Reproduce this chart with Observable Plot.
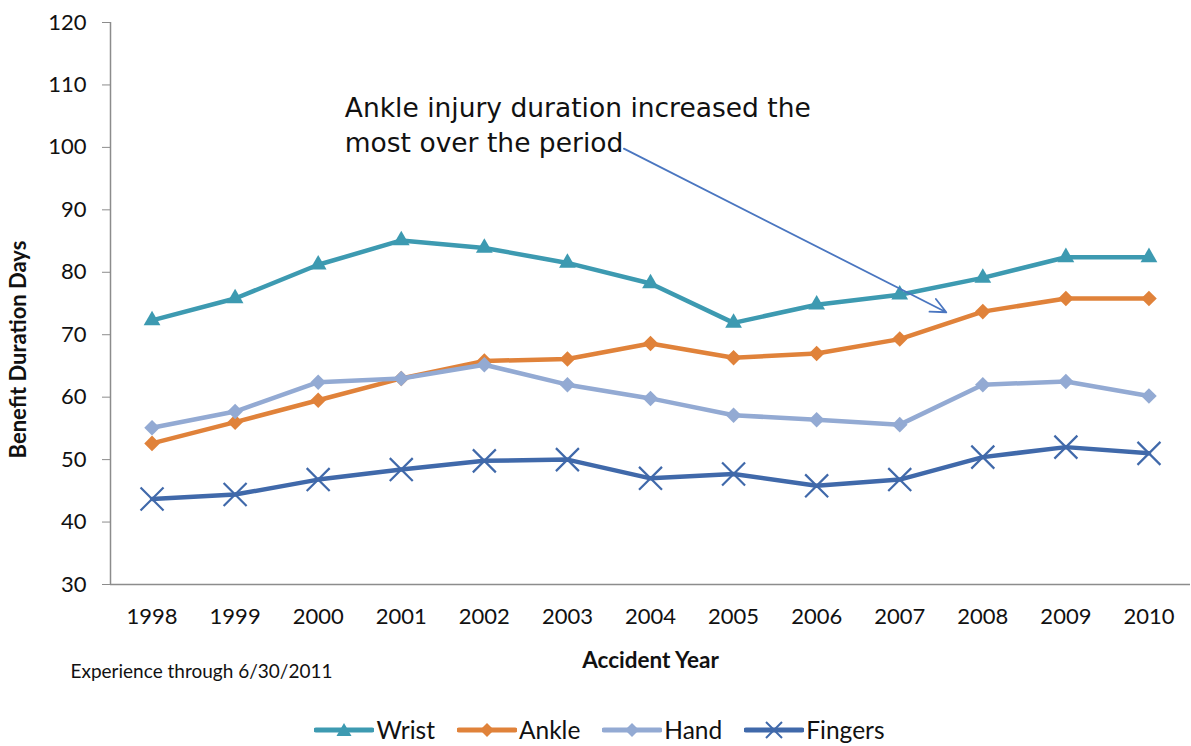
<!DOCTYPE html>
<html><head><meta charset="utf-8">
<script src="https://cdn.jsdelivr.net/npm/d3@7"></script>
<script src="https://cdn.jsdelivr.net/npm/@observablehq/plot@0.6"></script>
<style>
body{margin:0;background:#fff;font-family:Lato,"Open Sans",sans-serif;}
#legend{display:flex;justify-content:center;gap:22px;font-size:24.5px;color:#111;margin-top:15px;padding-left:8px;}
#legend span.item{display:flex;align-items:center;gap:2px;}
</style></head>
<body><div id="chart"></div><div id="legend"></div>
<script>
const years = [1998,1999,2000,2001,2002,2003,2004,2005,2006,2007,2008,2009,2010];
const wrist   = [72.3,75.8,81.2,85.1,83.9,81.5,78.2,71.9,74.8,76.4,79.1,82.4,82.4];
const ankle   = [52.6,56.0,59.5,63.0,65.8,66.1,68.6,66.3,67.0,69.3,73.7,75.8,75.8];
const hand    = [55.1,57.7,62.4,63.0,65.2,62.0,59.8,57.1,56.4,55.6,62.0,62.5,60.2];
const fingers = [43.7,44.4,46.8,48.4,49.8,50.0,47.0,47.7,45.8,46.8,50.4,52.0,51.0];
const seriesNames = ["Wrist","Ankle","Hand","Fingers"];
const seriesColors = ["#3D9AB1","#E0823A","#93AAD3","#4069AA"];
const seriesSymbols = ["triangle2","diamond2","diamond2","times"];
const seriesR = [8,7,7,10.5];
const yTicks = [30,40,50,60,70,80,90,100,110,120];
const annotationText = "Ankle injury duration increased the\nmost over the period";
const annotationPos = {x:2000.32, y:103.8};
const arrowData = [{x1:2003.68, y1:99.8, x2:2007.56, y2:73.6}];
const captionText = "Experience through 6/30/2011";

const allValues = [wrist, ankle, hand, fingers];
const data = [];
seriesNames.forEach((s,i)=>years.forEach((yr,j)=>data.push({series:s, year:yr, value:allValues[i][j]})));

const marks = [
  Plot.ruleX([1997.5],{stroke:"#8c8c8c", strokeWidth:1.5}),
  Plot.ruleY([30],{stroke:"#8c8c8c", strokeWidth:1.5}),
  Plot.axisY({ticks:yTicks, tickSize:8, tickPadding:16, fontSize:22, stroke:"#8c8c8c", label:null}),
  Plot.axisX({ticks:years, tickSize:0, tickPadding:24, fontSize:22, tickFormat:d=>String(d), label:null}),
  Plot.text(["Benefit Duration Days"],{frameAnchor:"left", textAnchor:"middle", dx:-92, dy:46, rotate:-90, fontSize:22, fontWeight:"bold", fill:"#111"}),
  Plot.text(["Accident Year"],{frameAnchor:"bottom", dy:83, fontSize:22.5, fontWeight:"bold", fill:"#111"}),
  Plot.text([captionText],{frameAnchor:"bottom-left", dx:-40, dy:93, textAnchor:"start", fontSize:19, fill:"#111"}),
];
seriesNames.forEach((s,i)=>{
  const d = data.filter(r=>r.series===s);
  marks.push(Plot.line(d,{x:"year", y:"value", stroke:seriesColors[i], strokeWidth:4.5}));
  const sym = seriesSymbols[i];
  if (sym === "times") {
    marks.push(Plot.dot(d,{x:"year", y:"value", symbol:sym, r:seriesR[i], stroke:seriesColors[i], strokeWidth:2.2}));
  } else {
    marks.push(Plot.dot(d,{x:"year", y:"value", symbol:sym, r:seriesR[i], fill:seriesColors[i], stroke:"none"}));
  }
});
marks.push(Plot.arrow(arrowData,{x1:"x1",y1:"y1",x2:"x2",y2:"y2", stroke:"#4A76C0", strokeWidth:1.8, bend:0, headLength:14, headAngle:50}));
marks.push(Plot.text([annotationPos],{x:"x", y:"y", text:()=>annotationText, textAnchor:"start", lineAnchor:"middle", lineHeight:1.3, fontSize:26.5, fontFamily:"DejaVu Sans", fill:"#111"}));

const chart = Plot.plot({
  width:1191, height:700,
  marginTop:22, marginBottom:116, marginLeft:110, marginRight:1,
  style:{fontFamily:"Lato, 'Open Sans', sans-serif", color:"#111", background:"#fff"},
  x:{type:"linear", domain:[1997.5,2010.5]},
  y:{domain:[30,120]},
  marks
});
document.getElementById("chart").appendChild(chart);

const legend = document.getElementById("legend");
seriesNames.forEach((s,i)=>{
  const item = document.createElement("span"); item.className="item";
  const c = seriesColors[i];
  let m;
  if (seriesSymbols[i]==="triangle2") m = `<polygon points="30,4 37.5,17 22.5,17" fill="${c}"/>`;
  else if (seriesSymbols[i]==="diamond2") m = `<polygon points="30,4 37,11 30,18 23,11" fill="${c}"/>`;
  else m = `<path d="M22,3 L38,19 M38,3 L22,19" stroke="${c}" stroke-width="2"/>`;
  item.innerHTML = `<svg width="60" height="22"><line x1="2" y1="11" x2="58" y2="11" stroke="${c}" stroke-width="5" stroke-linecap="round"/>${m}</svg><span>${s}</span>`;
  legend.appendChild(item);
});
</script></body></html>
